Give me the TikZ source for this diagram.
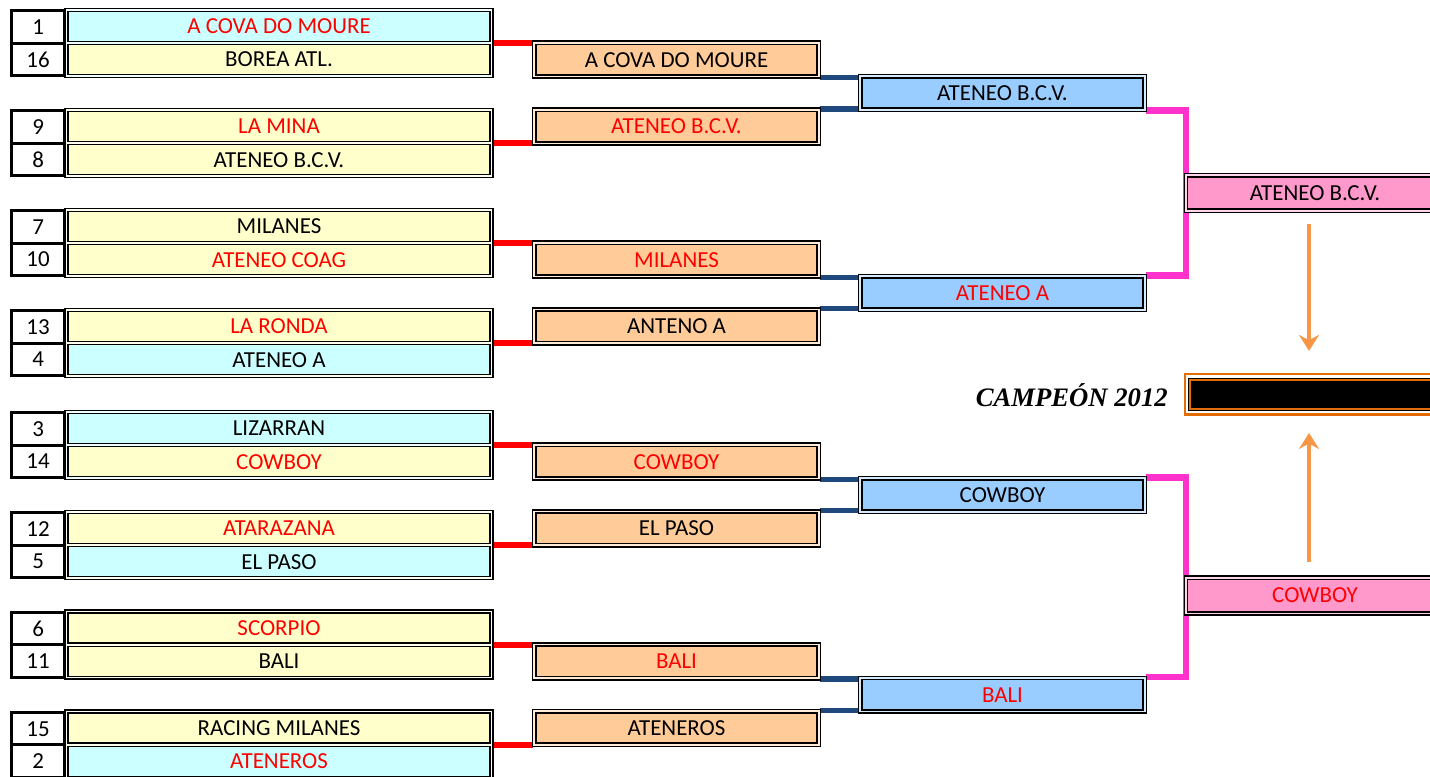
\documentclass[tikz,border=0pt]{standalone}
\usepackage{fontspec}
\setmainfont{Carlito}
\newfontfamily\campfont{Liberation Serif}
\usetikzlibrary{arrows.meta}
\pgfdeclarelayer{bg}
\pgfsetlayers{bg,main}
\definecolor{cyanc}{HTML}{CCFFFF}
\definecolor{yelc}{HTML}{FFFFCC}
\definecolor{orc}{HTML}{FFCC99}
\definecolor{bluc}{HTML}{99CCFF}
\definecolor{pinc}{HTML}{FF99CC}
\definecolor{redc}{HTML}{FF0000}
\definecolor{navyc}{HTML}{1F497D}
\definecolor{magc}{HTML}{FF33CC}
\definecolor{arrc}{HTML}{F79646}
\definecolor{champc}{HTML}{E36C09}
\newcommand\R[1]{\textcolor{redc}{#1}}
\tikzset{
 txt/.style={font=\fontsize{17.2}{19}\selectfont, text=black, inner sep=0pt},
 grpbox/.style={draw=black, line width=1.2pt, fill=#1!35!white, minimum width=321.4pt, minimum height=51.75pt, inner sep=0pt},
 cellbox/.style={txt, draw=black, line width=1.2pt, fill=#1, minimum width=316.5pt, minimum height=22.5pt},
 numbox/.style={txt, draw=black, line width=2.4pt, fill=white, minimum width=39.6pt, minimum height=24.5pt},
 dblbox/.style={txt, draw=black, line width=1.2pt, double=#1!40!white, double distance=1.2pt, fill=#1, minimum width=213.5pt, minimum height=25.2pt},
 pinkbox/.style={dblbox=pinc, minimum width=193.5pt, minimum height=26.7pt},
 champout/.style={draw=champc, line width=1.6pt, fill=white, minimum width=195pt, minimum height=30.4pt, inner sep=0pt},
 champin/.style={draw=black, line width=0.7pt, double=champc, double distance=1.5pt, fill=black, minimum width=188.25pt, minimum height=22.1pt, inner sep=0pt},
 redline/.style={draw=redc, line width=4.5pt},
 navyline/.style={draw=navyc, line width=4pt},
 magline/.style={draw=magc, line width=4.8pt},
 arr/.style={draw=arrc, line width=3pt, -{Stealth[length=12pt, width=15pt, inset=4pt]}},
}
\newcommand\tgroup[8]{%
 \node[grpbox=#4] (g#1) at (278.75,#2) {};
 \node[cellbox=#4] (c#1a) at (279,#2-16.65) {#5};
 \node[cellbox=#7] (c#1b) at (279,#2+16.65) {#8};
 \node[numbox] (n#1a) at (38.1,#2-16) {#3};
 \node[numbox] (n#1b) at (38.1,#2+16.5) {#6};
}
\begin{document}
\begin{tikzpicture}[x=0.75pt,y=-0.75pt]
\useasboundingbox (0,0) rectangle (1430,777);
\clip (0,0) rectangle (1430,777);
% first round
\tgroup{1}{43}{1}{cyanc}{\R{A COVA DO MOURE}}{16}{yelc}{BOREA ATL.}
\tgroup{2}{143}{9}{yelc}{\R{LA MINA}}{8}{yelc}{ATENEO B.C.V.}
\tgroup{3}{243}{7}{yelc}{MILANES}{10}{yelc}{\R{ATENEO COAG}}
\tgroup{4}{343}{13}{yelc}{\R{LA RONDA}}{4}{cyanc}{ATENEO A}
\tgroup{5}{445}{3}{cyanc}{LIZARRAN}{14}{yelc}{\R{COWBOY}}
\tgroup{6}{545}{12}{yelc}{\R{ATARAZANA}}{5}{cyanc}{EL PASO}
\tgroup{7}{644.7}{6}{yelc}{\R{SCORPIO}}{11}{yelc}{BALI}
\tgroup{8}{744.7}{15}{yelc}{RACING MILANES}{2}{cyanc}{\R{ATENEROS}}
% second round
\node[dblbox=orc] (o1) at (676.5,59.65) {A COVA DO MOURE};
\node[dblbox=orc] (o2) at (676.5,126.55) {\R{ATENEO B.C.V.}};
\node[dblbox=orc] (o3) at (676.5,259.65) {\R{MILANES}};
\node[dblbox=orc] (o4) at (676.5,326.35) {ANTENO A};
\node[dblbox=orc] (o5) at (676.5,461.65) {\R{COWBOY}};
\node[dblbox=orc] (o6) at (676.5,528.35) {EL PASO};
\node[dblbox=orc] (o7) at (676.5,661.35) {\R{BALI}};
\node[dblbox=orc] (o8) at (676.5,728.05) {ATENEROS};
% third round
\node[dblbox=bluc] (b1) at (1002.5,93.1) {ATENEO B.C.V.};
\node[dblbox=bluc] (b2) at (1002.5,293) {\R{ATENEO A}};
\node[dblbox=bluc] (b3) at (1002.5,495) {COWBOY};
\node[dblbox=bluc] (b4) at (1002.5,694.7) {\R{BALI}};
% final
\node[pinkbox] (p1) at (1315,193) {ATENEO B.C.V.};
\node[pinkbox] (p2) at (1315,595.5) {\R{COWBOY}};
% champion
\node[champout] (champ) at (1315,394.25) {};
\node[champin] (champin) at (1315,394.25) {};
\node[anchor=east, inner sep=0pt, font=\campfont\bfseries\itshape\fontsize{20}{24}\selectfont] (camp) at (1168,395) {CAMPEÓN 2012};
\coordinate (ax) at (1309,0);
\draw[arr, shorten <=9pt, shorten >=16.5pt] (p1.south -| ax) -- (champ.north -| ax);
\draw[arr, shorten <=11pt, shorten >=13pt] (p2.north -| ax) -- (champ.south -| ax);
% connectors
\begin{pgfonlayer}{bg}
\foreach \g/\o in {1/1,2/2,3/3,4/4,5/5,6/6,7/7,8/8}
  \draw[redline] (g\g.east) -- (g\g.east -| o\o.west);
\draw[navyline] (o1.south east) -- (o1.south east -| b1.west);
\draw[navyline] (o2.north east) -- (o2.north east -| b1.west);
\draw[navyline] (o3.south east) -- (o3.south east -| b2.west);
\draw[navyline] (o4.north east) -- (o4.north east -| b2.west);
\draw[navyline] (o5.south east) -- (o5.south east -| b3.west);
\draw[navyline] (o6.north east) -- (o6.north east -| b3.west);
\draw[navyline] (o7.south east) -- (o7.south east -| b4.west);
\draw[navyline] (o8.north east) -- (o8.north east -| b4.west);
\draw[magline] (b1.south east) -| ([xshift=0.75pt]p1.west) |- (b2.north east);
\draw[magline] (b3.north east) -| ([xshift=0.75pt]p2.west) |- (b4.north east);
\end{pgfonlayer}
\end{tikzpicture}
\end{document}
